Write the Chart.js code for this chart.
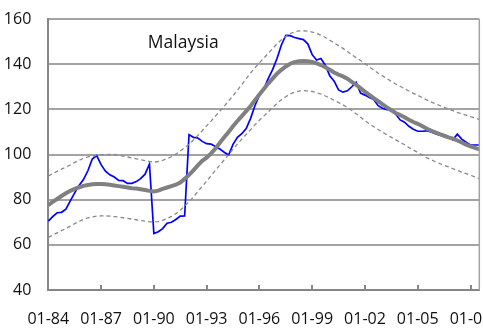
<!DOCTYPE html>
<html>
<head>
<meta charset="utf-8">
<script src="https://cdn.jsdelivr.net/npm/chart.js@4/dist/chart.umd.min.js"></script>
<style>
  html, body { margin: 0; padding: 0; background: #fff; overflow: hidden; }
  canvas { display: block; }
</style>
</head>
<body>
<canvas id="chart" width="483" height="329"></canvas>
<script>
// Quarterly house price index for Malaysia, 1984Q1 - 2008Q3
const startYear = 1984;
const quarterCount = 99;
const quarters = [];
for (let k = 0; k < quarterCount; k++) {
  quarters.push((startYear + Math.floor(k / 4)) + 'Q' + (k % 4 + 1));
}

// One label every 12 quarters (January of every third year)
const tickEvery = 12;
const tickLabels = ['01-84', '01-87', '01-90', '01-93', '01-96', '01-99', '01-02', '01-05', '01-08'];
const yTicks = [40, 60, 80, 100, 120, 140, 160];

const priceIndex = [
  70.5, 72.5, 74.2, 74.4, 75.8, 79.5, 83.0, 86.3, 88.9, 92.8,
  98.0, 99.5, 95.5, 92.6, 91.0, 90.0, 88.5, 88.4, 87.2, 87.2,
  88.0, 89.3, 91.3, 95.8, 65.0, 65.8, 67.2, 69.6, 70.0, 71.2,
  72.7, 72.8, 108.8, 107.6, 107.3, 105.8, 104.8, 104.6, 103.5, 102.4,
  101.0, 99.8, 104.5, 107.6, 109.2, 111.5, 116.0, 121.7, 126.2, 129.0,
  133.6, 137.6, 142.5, 148.5, 152.7, 152.6, 151.8, 151.3, 150.9, 149.0,
  144.2, 141.8, 142.5, 139.4, 134.9, 132.5, 128.6, 127.6, 128.2, 130.0,
  132.0, 127.2, 126.3, 125.3, 124.4, 121.6, 120.5, 119.9, 119.7, 117.8,
  115.3, 114.3, 112.5, 111.2, 110.3, 110.3, 110.5, 110.0, 109.2, 108.6,
  108.3, 107.6, 106.5, 109.0, 106.8, 105.4, 104.2, 104.2, 104.2
];

const trend = [
  77.6, 79.0, 80.3, 81.6, 82.8, 83.9, 84.8, 85.5, 86.1, 86.5,
  86.8, 86.9, 86.9, 86.8, 86.6, 86.3, 86.0, 85.7, 85.4, 85.1,
  84.9, 84.6, 84.3, 83.9, 83.6, 84.0, 84.8, 85.4, 86.0, 86.6,
  87.6, 89.2, 91.0, 93.0, 95.2, 97.2, 98.6, 100.5, 102.6, 105.2,
  107.6, 110.0, 112.5, 114.8, 117.0, 119.2, 121.5, 124.1, 126.6, 129.0,
  131.4, 133.6, 135.8, 137.5, 139.0, 140.2, 140.9, 141.3, 141.4, 141.3,
  141.0, 140.4, 139.6, 138.6, 137.5, 136.3, 135.4, 134.6, 133.6, 132.2,
  130.8, 129.4, 127.8, 126.4, 125.0, 123.6, 122.2, 120.9, 119.6, 118.4,
  117.5, 116.5, 115.4, 114.4, 113.6, 112.6, 111.5, 110.6, 109.8, 109.0,
  108.3, 107.6, 107.0, 106.2, 105.3, 104.4, 103.6, 102.9, 102.3
];

const upperBand = [
  90.5, 91.5, 92.5, 93.5, 94.4, 95.4, 96.5, 97.4, 98.3, 98.9,
  99.3, 99.6, 99.8, 99.9, 100.0, 100.0, 99.7, 99.3, 98.9, 98.5,
  98.1, 97.7, 97.3, 96.9, 96.6, 96.9, 97.4, 98.2, 99.0, 100.2,
  101.5, 103.0, 104.5, 106.4, 108.4, 110.5, 112.7, 114.8, 117.0, 119.2,
  121.4, 123.7, 126.0, 128.5, 131.0, 133.6, 136.1, 138.4, 140.6, 142.7,
  144.8, 146.9, 149.0, 150.8, 152.4, 153.5, 154.3, 154.7, 154.8, 154.6,
  154.2, 153.6, 152.8, 151.8, 150.6, 149.4, 148.2, 147.0, 145.6, 144.2,
  142.9, 141.6, 140.3, 138.8, 137.4, 136.0, 134.8, 133.6, 132.4, 131.2,
  130.2, 129.1, 128.1, 127.1, 126.2, 125.2, 124.2, 123.3, 122.5, 121.7,
  120.9, 120.1, 119.4, 118.7, 118.0, 117.4, 116.8, 116.2, 115.6
];

const lowerBand = [
  63.3, 64.3, 65.3, 66.3, 67.2, 68.3, 69.4, 70.4, 71.3, 71.9,
  72.4, 72.7, 72.8, 72.8, 72.7, 72.5, 72.3, 72.0, 71.7, 71.4,
  71.1, 70.8, 70.5, 70.2, 70.1, 70.3, 70.8, 71.6, 72.6, 73.8,
  75.2, 77.2, 79.0, 81.2, 83.6, 85.9, 88.2, 90.6, 93.0, 95.3,
  97.6, 100.0, 102.3, 104.6, 106.8, 108.9, 111.0, 113.2, 115.2, 117.0,
  118.8, 120.8, 122.6, 124.2, 125.6, 126.8, 127.6, 128.1, 128.3, 128.2,
  127.9, 127.4, 126.7, 125.9, 125.0, 124.0, 123.0, 122.0, 120.8, 119.5,
  118.0, 116.5, 115.0, 113.6, 112.3, 111.1, 109.9, 108.7, 107.6, 106.5,
  105.4, 104.3, 103.1, 102.0, 100.9, 99.7, 98.6, 97.7, 96.8, 96.0,
  95.2, 94.5, 93.7, 93.0, 92.2, 91.5, 90.8, 90.1, 89.3
];

const FONT = "'Open Sans', 'DejaVu Sans', sans-serif";
const AXIS_COLOR = '#868686';
const GRID_COLOR = '#a3a3a3';

// Fixed axis sizes; tick labels are allowed to run past the plot edges
function fixAxis(size) {
  return (scale) => {
    if (scale.isHorizontal()) scale.height = size; else scale.width = size;
    scale.paddingLeft = 0;
    scale.paddingRight = 0;
    scale.paddingTop = 0;
    scale.paddingBottom = 0;
  };
}

// Title inside the plot, short inward tick marks and the right frame edge
const plotDecor = {
  id: 'plotDecor',
  afterDraw(chart) {
    const { ctx, chartArea, scales } = chart;
    const x = scales.x;
    ctx.save();
    ctx.strokeStyle = AXIS_COLOR;
    ctx.lineWidth = 2;
    for (let k = 0; k < quarterCount; k += tickEvery) {
      const px = Math.round(x.getPixelForValue(k));
      ctx.beginPath();
      ctx.moveTo(px, chartArea.bottom);
      ctx.lineTo(px, chartArea.bottom - 5);
      ctx.stroke();
    }
    ctx.strokeStyle = GRID_COLOR;
    ctx.lineWidth = 1.5;
    ctx.beginPath();
    ctx.moveTo(chartArea.right, chartArea.top);
    ctx.lineTo(chartArea.right, chartArea.bottom);
    ctx.stroke();

    ctx.fillStyle = '#111';
    ctx.font = '17.5px ' + FONT;
    ctx.textAlign = 'center';
    ctx.textBaseline = 'middle';
    ctx.fillText('Malaysia', chartArea.left + chartArea.width * 0.313, chartArea.top + 24);
    ctx.restore();
  }
};

new Chart(document.getElementById('chart'), {
  type: 'line',
  data: {
    labels: quarters,
    datasets: [
      {
        label: 'Trend',
        data: trend,
        borderColor: '#808080',
        borderWidth: 4,
        pointRadius: 0,
        tension: 0
      },
      {
        label: 'Upper band',
        data: upperBand,
        borderColor: '#8a8a8a',
        borderWidth: 1.3,
        borderDash: [4, 3],
        pointRadius: 0,
        tension: 0
      },
      {
        label: 'Lower band',
        data: lowerBand,
        borderColor: '#8a8a8a',
        borderWidth: 1.3,
        borderDash: [4, 3],
        pointRadius: 0,
        tension: 0
      },
      {
        label: 'House price index',
        data: priceIndex,
        borderColor: '#0000ff',
        borderWidth: 1.7,
        pointRadius: 0,
        tension: 0
      }
    ]
  },
  options: {
    responsive: false,
    animation: false,
    devicePixelRatio: 1,
    layout: { padding: { left: 4, right: 3.7, top: 19, bottom: 0 } },
    plugins: {
      legend: { display: false },
      title: { display: false },
      tooltip: { enabled: false }
    },
    scales: {
      x: {
        type: 'category',
        offset: false,
        grid: { display: false, drawTicks: false },
        border: { display: true, color: AXIS_COLOR, width: 2 },
        afterFit: fixAxis(39),
        ticks: {
          autoSkip: false,
          maxRotation: 0,
          minRotation: 0,
          padding: 20,
          color: '#111',
          font: { family: FONT, size: 16 },
          callback: (value, index) =>
            index % tickEvery === 0 ? tickLabels[index / tickEvery] : null
        }
      },
      y: {
        min: yTicks[0],
        max: yTicks[yTicks.length - 1],
        afterBuildTicks: (scale) => { scale.ticks = yTicks.map(v => ({ value: v })); },
        afterFit: fixAxis(44.3),
        grid: { color: GRID_COLOR, lineWidth: 2, drawTicks: false },
        border: { display: true, color: AXIS_COLOR, width: 2 },
        ticks: {
          padding: 17,
          color: '#111',
          font: { family: FONT, size: 16 }
        }
      }
    }
  },
  plugins: [plotDecor]
});
</script>
</body>
</html>
